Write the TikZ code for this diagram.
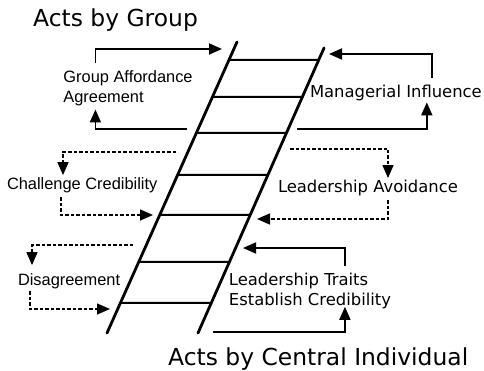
\documentclass[tikz,border=0pt]{standalone}
\usepackage{fontspec}
\setmainfont{DejaVu Sans}
\newfontfamily\arialfont{Liberation Sans}
\usepackage{tikz}
\usetikzlibrary{
    calc,
    arrows.meta
}
\tikzset{
    rail/.style={line width=2.8pt, line cap=round},
    rung/.style={line width=2pt},
    flow/.style={line width=1.8pt, -{Triangle[length=13pt,width=11pt]}},
    weak/.style={flow, line width=1.5pt, dash pattern=on 3.5pt off 2pt},
    lbl/.style={inner sep=0pt, outer sep=0pt, font=\fontsize{16.4}{19.7}\selectfont},
    lbla/.style={lbl, font=\arialfont\fontsize{16.4}{19.7}\selectfont},
    ttl/.style={inner sep=0pt, font=\fontsize{23.4}{28}\selectfont}
}

\begin{document}
\begin{tikzpicture}[x=1pt,y=-1pt]
        \useasboundingbox (0,0) rectangle (484,371);

        % ladder
        \coordinate (ltop) at (237,42);
        \coordinate (lbot) at (107,333);
        \coordinate (rtop) at (324,48);
        \coordinate (rbot) at (198,333);
        \draw[rail] (ltop) -- (lbot);
        \draw[rail] (rtop) -- (rbot);
        \foreach \y in {60,97,133,175,215,262,303}
            \draw[rung] ($(ltop)!{(\y-42)/291}!(lbot)$) -- ($(rtop)!{(\y-48)/285}!(rbot)$);

        % titles
        \node[ttl,anchor=base west] (tgroup) at (33,27) {Acts by Group};
        \node[ttl,anchor=base west] (tcentral) at (168,365) {Acts by Central Individual};

        % labels
        \node[lbla,align=left] (ga) at (128,88) {Group Affordance\\Agreement};
        \node[lbl,anchor=base west] (mi) at (310,98) {Managerial Influence};
        \node[lbla,anchor=base west] (cc) at (7,190) {Challenge Credibility};
        \node[lbl,anchor=base west] (la) at (278,193) {Leadership Avoidance};
        \node[lbla,anchor=base west] (dg) at (18,285) {Disagreement};
        \node[lbl,align=left] (lt) at (310,291) {Leadership Traits\\Establish Credibility};

        % ends at the ladder
        \coordinate (ga in) at (222,49);
        \coordinate (ga out) at (187,129);
        \coordinate (mi in) at (329,54);
        \coordinate (mi out) at (297,129);
        \coordinate (cc out) at (176,152);
        \coordinate (cc in) at (153,215);
        \coordinate (la out) at (290,149);
        \coordinate (la in) at (257,219);
        \coordinate (dg out) at (133,245);
        \coordinate (dg in) at (110,309);
        \coordinate (lt in) at (243,248);
        \coordinate (lt out) at (213,332);

        % solid loops
        \draw[flow] ([xshift=32pt,yshift=8pt]ga.north west) |- (ga in);
        \draw[flow] (ga out) -| ([xshift=32pt,yshift=-4pt]ga.south west);
        \draw[flow] ([xshift=-50pt,yshift=8pt]mi.north east) |- (mi in);
        \draw[flow] (mi out) -| ([xshift=-55pt,yshift=-1pt]mi.south east);
        \draw[flow] ([xshift=116pt,yshift=7pt]lt.north west) |- (lt in);
        \draw[flow] (lt out) -| ([xshift=116pt,yshift=2pt]lt.south west);

        % dashed loops
        \draw[weak] (cc out) -| ([xshift=56pt,yshift=3pt]cc.north west);
        \draw[weak] ([xshift=54pt,yshift=-4pt]cc.south west) |- (cc in);
        \draw[weak] (la out) -| ([xshift=110pt,yshift=2.5pt]la.north west);
        \draw[weak] ([xshift=110pt,yshift=-4pt]la.south west) |- (la in);
        \draw[weak] (dg out) -| ([xshift=14pt,yshift=8pt]dg.north west);
        \draw[weak] ([xshift=12pt,yshift=-3pt]dg.south west) |- (dg in);
    \end{tikzpicture}
\end{document}
